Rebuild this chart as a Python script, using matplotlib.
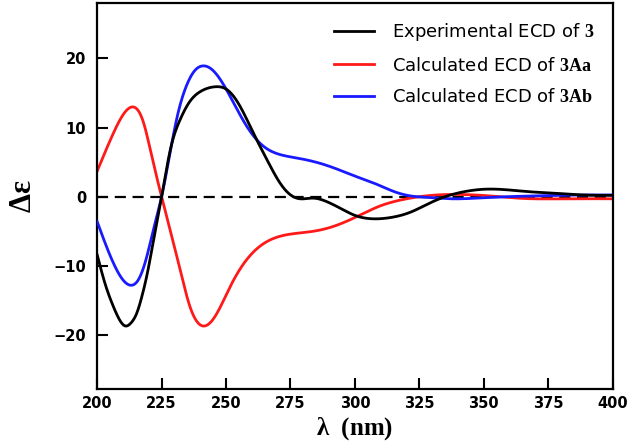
import numpy as np
import matplotlib
matplotlib.use("Agg")
from matplotlib import pyplot as plt

plt.rcParams['mathtext.fontset'] = 'custom'
plt.rcParams['mathtext.bf'] = 'Liberation Serif:bold'
plt.rcParams['mathtext.rm'] = 'Liberation Serif'

# experimental ECD of 3
wl_exp = [200, 203, 206.3, 209, 211, 213, 215.4, 217.5, 219.5, 222, 225, 228.5,
          232, 236, 240, 245.7, 250.3, 255.4, 260.6, 265.8, 270.9, 276.1, 278.7,
          283.7, 289, 295.5, 300, 307.8, 314, 321.8, 328, 334.2, 342, 351.3,
          359, 368.4, 377.7, 388.6, 400]
de_exp = [-8.4, -12.5, -15.9, -18.0, -18.7, -18.3, -16.8, -14.2, -11.0, -6.0, 0, 7.0,
          11.0, 13.8, 15.2, 15.9, 15.5, 13.1, 9.2, 5.4, 2.0, 0.0, -0.3,
          -0.2, -0.7, -1.9, -2.7, -3.2, -3.0, -2.2, -1.1, -0.1, 0.7, 1.1,
          1.0, 0.7, 0.5, 0.25, 0.2]

# calculated ECD of 3Aa
wl_aa = [200, 206.3, 212.8, 218, 221.2, 225, 228.3, 232.2, 236, 241.2, 246.4,
         251.6, 258, 265.8, 273.5, 283.8, 291.6, 300.6, 309.3, 318.7, 324.9,
         334.2, 343.5, 352.9, 365.3, 381, 400]
de_aa = [3.7, 9.2, 12.9, 10.7, 5.8, 0, -4.8, -10.6, -15.9, -18.7, -16.9,
         -13.0, -9.1, -6.5, -5.5, -5.0, -4.3, -2.9, -1.4, -0.4, 0,
         0.3, 0.3, 0.1, -0.25, -0.3, -0.3]

# calculated ECD of 3Ab
wl_ab = [200, 206.3, 213.4, 216, 219, 222, 225, 228, 231, 234.8, 238, 240.6, 245.1,
         251.6, 258, 264.5, 270.9, 277.4, 283.8, 291.6, 300.6, 307.8, 315.5,
         321.8, 328, 337.3, 349.8, 359, 373.1, 388.6, 400]
de_ab = [-3.6, -9.6, -12.8, -12.0, -9.0, -4.5, 0, 5.8, 11.5, 16.2, 18.3, 18.9, 18.2,
         14.5, 10.2, 7.3, 6.1, 5.6, 5.1, 4.2, 2.9, 1.9, 0.7,
         0.1, -0.1, -0.3, -0.15, 0, 0.15, 0.25, 0.25]


def smooth(x, y):
    # natural cubic spline through the read points
    x = np.asarray(x, float)
    y = np.asarray(y, float)
    n = len(x)
    h = np.diff(x)
    A = np.zeros((n, n))
    r = np.zeros(n)
    A[0, 0] = A[-1, -1] = 1
    for i in range(1, n - 1):
        A[i, i-1] = h[i-1]
        A[i, i] = 2 * (h[i-1] + h[i])
        A[i, i+1] = h[i]
        r[i] = 6 * ((y[i+1] - y[i]) / h[i] - (y[i] - y[i-1]) / h[i-1])
    M = np.linalg.solve(A, r)
    xs = np.linspace(x[0], x[-1], 1000)
    k = np.clip(np.searchsorted(x, xs) - 1, 0, n - 2)
    a = x[k+1] - xs
    b = xs - x[k]
    ys = (M[k] * a**3 + M[k+1] * b**3) / (6 * h[k]) \
        + (y[k] / h[k] - M[k] * h[k] / 6) * a + (y[k+1] / h[k] - M[k+1] * h[k] / 6) * b
    return xs, ys


fig = plt.figure(figsize=(6.31, 4.42), dpi=100)
ax = fig.add_axes([0.154, 0.12, 0.817, 0.873])

ax.axhline(0, color='black', lw=1.6, ls=(0, (5, 3)), zorder=1)
ax.plot(*smooth(wl_exp, de_exp), color='black', lw=2, label=r'Experimental ECD of $\mathbf{3}$', zorder=4)
ax.plot(*smooth(wl_aa, de_aa), color='#ff1a1a', lw=2, label=r'Calculated ECD of $\mathbf{3Aa}$', zorder=2)
ax.plot(*smooth(wl_ab, de_ab), color='#1a1aff', lw=2, label=r'Calculated ECD of $\mathbf{3Ab}$', zorder=3)

ax.set_xlim(200, 400)
ax.set_ylim(-27.8, 28)
ax.set_xticks([200, 225, 250, 275, 300, 325, 350, 375, 400])
ax.set_yticks([-20, -10, 0, 10, 20])
ax.tick_params(direction='in', length=8, width=1.5, labelsize=10.5)
ax.tick_params(axis='x', pad=5)
ax.tick_params(axis='y', pad=8)
for lab in ax.get_xticklabels() + ax.get_yticklabels():
    lab.set_fontweight('bold')
for s in ax.spines.values():
    s.set_linewidth(1.6)

ax.set_xlabel(r'$\mathbf{\lambda}$  (nm)', family='Liberation Serif', fontweight='bold', fontsize=18)
ax.xaxis.set_label_coords(0.5, -0.068, transform=ax.transAxes)
ax.set_ylabel(r'$\mathbf{\Delta\varepsilon}$', fontsize=22)
ax.yaxis.set_label_coords(-0.117, 0.5, transform=ax.transAxes)

ax.legend(loc='upper right', frameon=False, fontsize=13, handlelength=2.2, handletextpad=1.0,
          labelspacing=0.75, borderaxespad=0.6)

fig.savefig('out.png', dpi=100)
